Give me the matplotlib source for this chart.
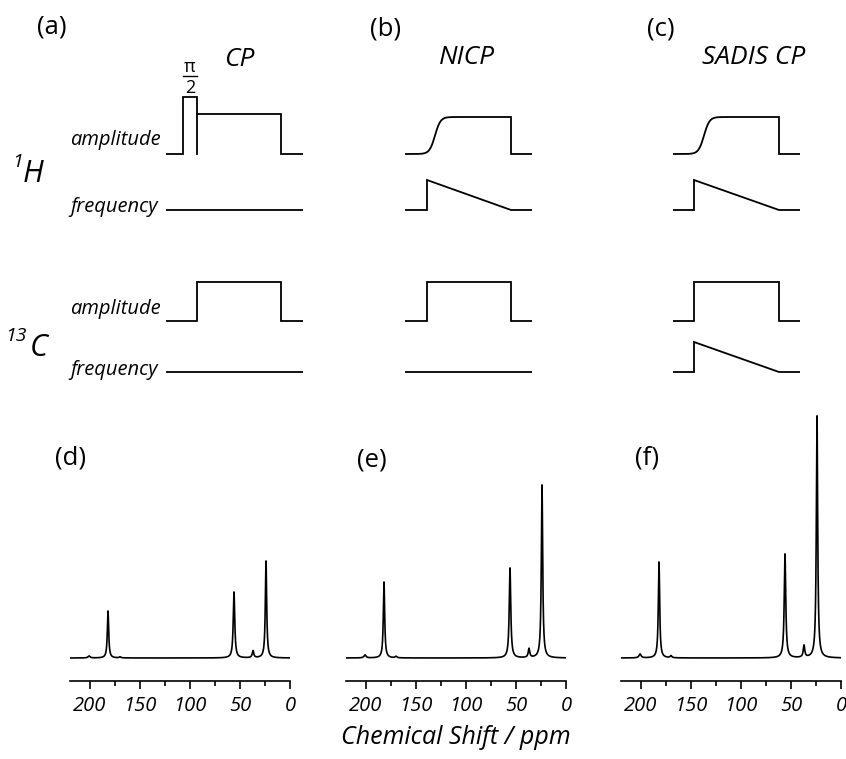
import numpy as np
import matplotlib
matplotlib.use("Agg")
import matplotlib.pyplot as plt
from matplotlib.ticker import MultipleLocator


plt.rcParams['font.family'] = ['Open Sans', 'DejaVu Sans']

W, H = 846, 759

# =========================
# PULSE SEQUENCE DATA (time / level in arbitrary units)
# =========================

# rows of the scheme (baseline level of each trace)
row_h_amp = 218
row_h_freq = 162
row_c_amp = 51
row_c_freq = 0

# (a) CP
cp_len = 137
cp_pi2 = [17, 31]
cp_lock = [31, 115]
cp_pi2_height = 57
cp_lock_height = 40
cp_c_height = 39

# (b) NICP
nicp_len = 127
nicp_ramp_mid = 30
nicp_contact = [22, 106]
nicp_h_height = 37
nicp_c_height = 39
nicp_sweep = 30

# (c) SADIS CP
sadis_len = 127
sadis_ramp_mid = 31
sadis_contact = [21, 106]
sadis_h_height = 37
sadis_c_height = 39
sadis_sweep = 30

# =========================
# SPECTRA DATA
# =========================

peak_ppm = [201, 182, 170, 56, 37, 24]
peak_width = [1.2, 0.8, 1.0, 0.9, 0.9, 0.8]
cp_heights = [2, 47, 1, 66, 7, 97]
nicp_heights = [3, 76, 1.5, 90, 9, 173]
sadis_heights = [4, 96, 2, 104, 12, 242]

spectrum_labels = ["(d)", "(e)", "(f)"]
tick_values = [200, 150, 100, 50, 0]


def fx(px):
    return px / W


def fy(py):
    return 1 - py / H


def step(ax, t, y):
    ax.plot(t, y, color="black", lw=1.3, solid_joinstyle="miter")


def pulse_axes(left_px, length):
    # axes in which 1 time unit = 1 px
    ax = fig.add_axes([fx(left_px), fy(400), fx(length), 340 / H])
    ax.set_xlim(0, length)
    ax.set_ylim(-28, 312)
    ax.axis("off")
    return ax


def sigmoid(t, mid, top):
    return top * 0.5 * (1 + np.tanh((t - mid) / 5.5))


fig = plt.figure(figsize=(W / 100, H / 100), dpi=100)

# =========================
# (a) CP
# =========================

ax = pulse_axes(166, cp_len)
step(ax,
     [0, cp_pi2[0], cp_pi2[0], cp_pi2[1], cp_pi2[1]],
     [row_h_amp, row_h_amp, row_h_amp + cp_pi2_height,
      row_h_amp + cp_pi2_height, row_h_amp])
step(ax,
     [cp_lock[0], cp_lock[1], cp_lock[1], cp_len],
     [row_h_amp + cp_lock_height, row_h_amp + cp_lock_height,
      row_h_amp, row_h_amp])
step(ax, [0, cp_len], [row_h_freq, row_h_freq])
step(ax,
     [0, cp_lock[0], cp_lock[0], cp_lock[1], cp_lock[1], cp_len],
     [row_c_amp, row_c_amp, row_c_amp + cp_c_height,
      row_c_amp + cp_c_height, row_c_amp, row_c_amp])
step(ax, [0, cp_len], [row_c_freq, row_c_freq])

# =========================
# (b) NICP
# =========================

ax = pulse_axes(405, nicp_len)
t = np.linspace(0, nicp_contact[1], 300)
ramp = row_h_amp + sigmoid(t, nicp_ramp_mid, nicp_h_height)
step(ax,
     np.r_[t, nicp_contact[1], nicp_len],
     np.r_[ramp, row_h_amp, row_h_amp])
step(ax,
     [0, nicp_contact[0], nicp_contact[0], nicp_contact[1], nicp_len],
     [row_h_freq, row_h_freq, row_h_freq + nicp_sweep,
      row_h_freq, row_h_freq])
step(ax,
     [0, nicp_contact[0], nicp_contact[0], nicp_contact[1],
      nicp_contact[1], nicp_len],
     [row_c_amp, row_c_amp, row_c_amp + nicp_c_height,
      row_c_amp + nicp_c_height, row_c_amp, row_c_amp])
step(ax, [0, nicp_len], [row_c_freq, row_c_freq])

# =========================
# (c) SADIS CP
# =========================

ax = pulse_axes(673, sadis_len)
t = np.linspace(0, sadis_contact[1], 300)
ramp = row_h_amp + sigmoid(t, sadis_ramp_mid, sadis_h_height)
step(ax,
     np.r_[t, sadis_contact[1], sadis_len],
     np.r_[ramp, row_h_amp, row_h_amp])
step(ax,
     [0, sadis_contact[0], sadis_contact[0], sadis_contact[1], sadis_len],
     [row_h_freq, row_h_freq, row_h_freq + sadis_sweep,
      row_h_freq, row_h_freq])
step(ax,
     [0, sadis_contact[0], sadis_contact[0], sadis_contact[1],
      sadis_contact[1], sadis_len],
     [row_c_amp, row_c_amp, row_c_amp + sadis_c_height,
      row_c_amp + sadis_c_height, row_c_amp, row_c_amp])
step(ax,
     [0, sadis_contact[0], sadis_contact[0], sadis_contact[1], sadis_len],
     [row_c_freq, row_c_freq, row_c_freq + sadis_sweep,
      row_c_freq, row_c_freq])

# =========================
# SCHEME TEXT
# =========================

label_kw = dict(fontsize=18.5, ha="center", va="center")
fig.text(fx(52), fy(27), "(a)", **label_kw)
fig.text(fx(386), fy(29), "(b)", **label_kw)
fig.text(fx(661), fy(29), "(c)", **label_kw)

title_kw = dict(fontsize=19, style="italic", ha="center", va="center")
fig.text(fx(239), fy(59), "CP", **title_kw)
fig.text(fx(467), fy(58), "NICP", **title_kw)
fig.text(fx(754), fy(58), "SADIS CP", **title_kw)

fig.text(fx(190), fy(67), "\u03c0", fontsize=13, ha="center", va="center")
fig.text(fx(190), fy(88), "2", fontsize=13, ha="center", va="center")
fig.lines.append(plt.Line2D([fx(183), fx(197)], [fy(76), fy(76)],
                            transform=fig.transFigure, color="black", lw=1))

row_kw = dict(fontsize=14.5, style="italic", ha="right", va="center")
fig.text(fx(161), fy(140), "amplitude", **row_kw)
fig.text(fx(158), fy(207), "frequency", **row_kw)
fig.text(fx(161), fy(309), "amplitude", **row_kw)
fig.text(fx(158), fy(370), "frequency", **row_kw)

fig.text(fx(18), fy(162), "1", fontsize=14, style="italic",
         ha="center", va="center")
fig.text(fx(33), fy(174), "H", fontsize=22, style="italic",
         ha="center", va="center")
fig.text(fx(16), fy(336), "13", fontsize=14, style="italic",
         ha="center", va="center")
fig.text(fx(39), fy(348), "C", fontsize=22, style="italic",
         ha="center", va="center")

# =========================
# SPECTRA
# =========================

ppm = np.arange(220, -0.001, -0.05)

all_heights = [cp_heights, nicp_heights, sadis_heights]
axis_left = [70, 346, 621]
label_pos = [(71, 458), (372, 460), (647, 458)]

for heights, left, label, pos in zip(all_heights, axis_left,
                                     spectrum_labels, label_pos):

    ax = fig.add_axes([fx(left), fy(681), fx(220), 273 / H])

    intensity = np.zeros_like(ppm)
    for x0, w, h in zip(peak_ppm, peak_width, heights):
        intensity += h / (1 + ((ppm - x0) / w) ** 2)

    ax.plot(ppm, intensity, color="black", lw=1.2)

    ax.set_xlim(220, 0)
    ax.set_ylim(-23, 250)

    for side in ["top", "right", "left"]:
        ax.spines[side].set_visible(False)
    ax.spines["bottom"].set_linewidth(1.2)

    ax.set_yticks([])
    ax.set_xticks(tick_values)
    ax.xaxis.set_minor_locator(MultipleLocator(25))
    ax.tick_params(axis="x", which="major", length=6, width=1.2,
                   pad=5, labelsize=14.5)
    ax.tick_params(axis="x", which="minor", length=3.5, width=1.2)
    for lab in ax.get_xticklabels():
        lab.set_fontstyle("italic")
    ax.patch.set_visible(False)

    fig.text(fx(pos[0]), fy(pos[1]), label, **label_kw)

fig.text(fx(456), fy(737), "Chemical Shift / ppm", fontsize=18,
         style="italic", ha="center", va="center")

fig.savefig("out.png", dpi=100)
